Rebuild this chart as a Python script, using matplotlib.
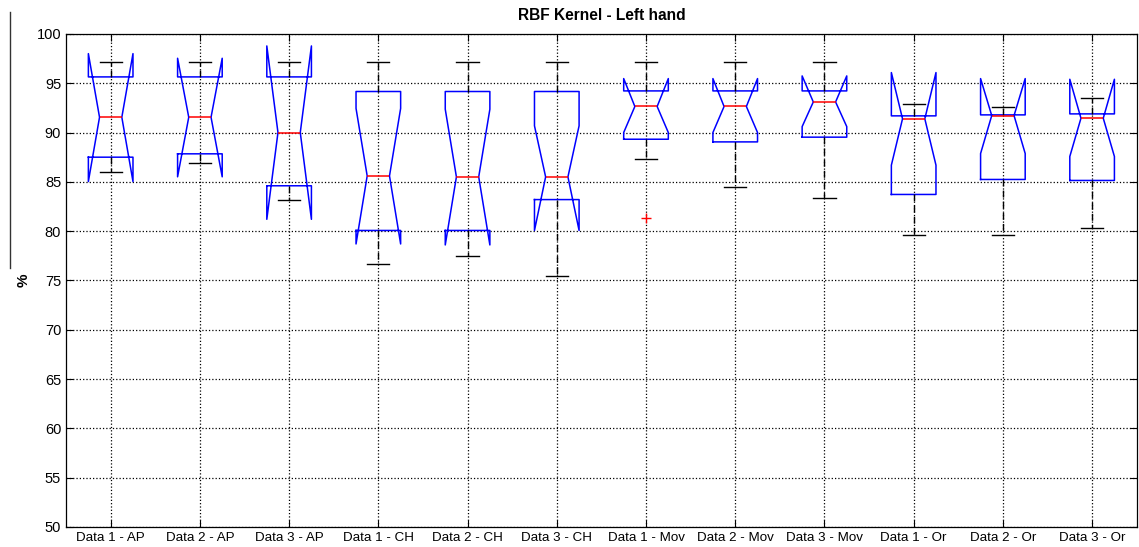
import matplotlib
matplotlib.use("Agg")
import matplotlib.pyplot as plt
from matplotlib.lines import Line2D

plt.rcParams['font.family'] = ['Liberation Sans', 'DejaVu Sans']

labels = ["Data 1 - AP", "Data 2 - AP", "Data 3 - AP",
          "Data 1 - CH", "Data 2 - CH", "Data 3 - CH",
          "Data 1 - Mov", "Data 2 - Mov", "Data 3 - Mov",
          "Data 1 - Or", "Data 2 - Or", "Data 3 - Or"]
medians = [91.55, 91.55, 90.0, 85.6, 85.5, 85.5, 92.64, 92.64, 93.1, 91.39, 91.72, 91.45]
q1 = [87.5, 87.84, 84.6, 80.07, 80.07, 83.2, 89.32, 89.05, 89.53, 83.72, 85.24, 85.14]
q3 = [95.64, 95.64, 95.64, 94.16, 94.16, 94.16, 94.22, 94.22, 94.22, 91.69, 91.79, 91.89]
whisk_lo = [85.95, 86.93, 83.2, 76.65, 77.43, 75.47, 87.33, 84.43, 83.34, 79.63, 79.63, 80.34]
whisk_hi = [97.13, 97.13, 97.13, 97.13, 97.13, 97.13, 97.13, 97.13, 97.13, 92.94, 92.57, 93.48]
notch_lo = [85.03, 85.51, 81.2, 78.7, 78.6, 80.07, 90.0, 90.0, 90.6, 86.69, 87.87, 87.57]
notch_hi = [98.0, 97.53, 98.78, 92.45, 92.36, 90.68, 95.47, 95.47, 95.74, 96.08, 95.47, 95.4]
outliers = [[], [], [], [], [], [], [81.32], [], [], [], [], []]

stats = []
for i in range(len(labels)):
    stats.append(dict(label=labels[i], med=medians[i], q1=q1[i], q3=q3[i],
                      whislo=whisk_lo[i], whishi=whisk_hi[i],
                      cilo=notch_lo[i], cihi=notch_hi[i], fliers=outliers[i]))

fig = plt.figure(figsize=(11.39, 5.47), dpi=100)
ax = fig.add_axes([0.058, 0.0366, 0.940, 0.9014])

positions = list(range(1, len(labels) + 1))
ax.bxp(stats, positions=positions, widths=0.5, shownotches=True,
       boxprops=dict(color='#0000ff', linewidth=1.1),
       medianprops=dict(color='#ff0000', linewidth=1.1),
       whiskerprops=dict(color='black', linewidth=1.0, linestyle=(0, (5, 3))),
       capprops=dict(color='black', linewidth=1.0),
       flierprops=dict(marker='+', markeredgecolor='#ff0000', markersize=7,
                       linestyle='none'),
       manage_ticks=False)

ax.set_xlim(0.5, 12.5)
ax.set_ylim(50, 100)
ax.set_xticks(positions)
ax.set_xticklabels(labels, fontsize=9.6)
ax.set_yticks(range(50, 101, 5))
ax.tick_params(axis='y', labelsize=10.5)
ax.tick_params(direction='in', length=5, top=True, right=True, width=0.8)
ax.grid(True, color='black', linestyle=':', linewidth=0.9)
ax.set_axisbelow(True)
for s in ax.spines.values():
    s.set_linewidth(0.9)

ax.set_title("RBF Kernel - Left hand", fontsize=11.2, fontweight='bold', pad=10)
ax.set_ylabel("%", fontsize=11, fontweight='bold', labelpad=4)

fig.add_artist(Line2D([10 / 1139, 10 / 1139], [1 - 12 / 547, 1 - 268 / 547],
                      transform=fig.transFigure, color='#333333', linewidth=1.0))

fig.savefig("out.png", dpi=100)
